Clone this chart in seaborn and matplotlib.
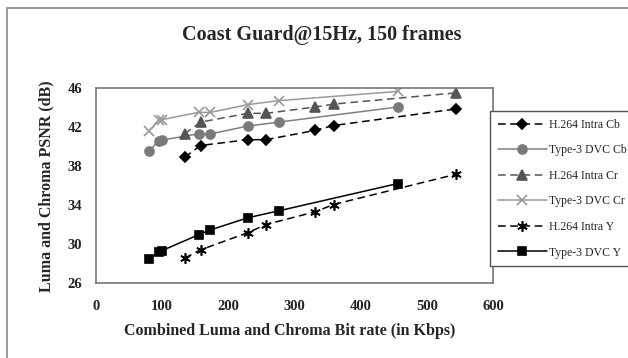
import matplotlib
matplotlib.use("Agg")
import matplotlib.pyplot as plt
import seaborn as sns
import pandas as pd
from matplotlib.patches import Rectangle

# Data
h264_x = [134, 158, 229, 257, 331, 359, 544]
dvc_x = [80, 95, 99, 155, 173, 230, 276, 456]

h264_cb = [38.9, 40.1, 40.7, 40.7, 41.65, 42.15, 43.85]
dvc_cb = [39.5, 40.6, 40.65, 41.3, 41.3, 42.1, 42.5, 44.05]
h264_cr = [41.3, 42.5, 43.4, 43.4, 44.05, 44.35, 45.5]
dvc_cr = [41.6, 42.7, 42.75, 43.5, 43.5, 44.3, 44.7, 45.65]
h264_y = [28.55, 29.4, 31.15, 32.0, 33.3, 34.05, 37.15]
dvc_y = [28.45, 29.15, 29.3, 30.95, 31.45, 32.7, 33.4, 36.2]

labels = ["H.264 Intra Cb", "Type-3 DVC Cb", "H.264 Intra Cr",
          "Type-3 DVC Cr", "H.264 Intra Y", "Type-3 DVC Y"]
title = "Coast Guard@15Hz, 150 frames"
xlabel = "Combined Luma and Chroma Bit rate (in Kbps)"
ylabel = "Luma and Chroma PSNR (dB)"
xticks = [0, 100, 200, 300, 400, 500, 600]
yticks = [26, 30, 34, 38, 42, 46]

series = [
    (labels[0], h264_x, h264_cb),
    (labels[1], dvc_x, dvc_cb),
    (labels[2], h264_x, h264_cr),
    (labels[3], dvc_x, dvc_cr),
    (labels[4], h264_x, h264_y),
    (labels[5], dvc_x, dvc_y),
]
rows = []
for name, xs, ys in series:
    for x, y in zip(xs, ys):
        rows.append({"series": name, "rate": x, "psnr": y})
df = pd.DataFrame(rows)

styles = {
    labels[0]: dict(color="black", ls=(0, (5, 3)), marker="D", ms=5.5, mfc="black", mec="black"),
    labels[1]: dict(color="#808080", ls="-", marker="o", ms=6.5, mfc="#7a7a7a", mec="#7a7a7a"),
    labels[2]: dict(color="#555555", ls=(0, (5, 3)), marker="^", ms=7, mfc="#555555", mec="#555555"),
    labels[3]: dict(color="#999999", ls="-", marker="x", ms=7.5, mfc="#999999", mec="#999999"),
    labels[4]: dict(color="black", ls=(0, (5, 3)), marker=(6, 2, 0), ms=7.5, mfc="black", mec="black"),
    labels[5]: dict(color="black", ls="-", marker="s", ms=6, mfc="black", mec="black"),
}

sns.set_style("white")
plt.rcParams["font.family"] = ["Liberation Serif", "DejaVu Serif"]

fig = plt.figure(figsize=(6.28, 3.58), dpi=100)
ax = fig.add_axes([96 / 628, 1 - 283 / 358, (493 - 96) / 628, (283 - 88) / 358])

for name in labels:
    st = styles[name]
    sub = df[df["series"] == name]
    sns.lineplot(data=sub, x="rate", y="psnr", ax=ax, color=st["color"],
                 linestyle=st["ls"], marker=st["marker"], markersize=st["ms"],
                 markerfacecolor=st["mfc"], markeredgecolor=st["mec"],
                 markeredgewidth=1.2, linewidth=1.1, label=name, sort=False,
                 estimator=None)

ax.set_xlim(0, 600)
ax.set_ylim(26, 46)
ax.set_xticks(xticks)
ax.set_yticks(yticks)
ax.set_xticklabels([str(t) for t in xticks], fontsize=10.5, fontweight="bold", color="#222222")
ax.set_yticklabels([str(t) for t in yticks], fontsize=10.5, fontweight="bold", color="#222222")
ax.tick_params(axis="y", direction="out", length=4, width=1, color="#555555", pad=6)
ax.tick_params(axis="x", direction="out", length=4, width=1, color="#555555", pad=8)
for sp in ax.spines.values():
    sp.set_color("#777777")
    sp.set_linewidth(1.2)
ax.set_xlabel("")
ax.set_ylabel("")

fig.text(322 / 628, 1 - 35 / 358, title, ha="center", va="center",
         fontsize=14.5, fontweight="bold")
fig.text(290 / 628, 1 - 331 / 358, xlabel, ha="center", va="center",
         fontsize=11.5, fontweight="bold")
fig.text(46 / 628, 1 - 186 / 358, ylabel, ha="center", va="center",
         rotation=90, fontsize=11.5, fontweight="bold")

leg = ax.legend(loc="upper left", bbox_to_anchor=(490 / 628, 1 - 111 / 358),
                bbox_transform=fig.transFigure, frameon=True, fancybox=False,
                edgecolor="#555555", framealpha=1, fontsize=8.5,
                handlelength=4.2, handletextpad=0.15, labelspacing=1.15,
                borderpad=0.65, borderaxespad=0)
leg.get_frame().set_linewidth(1.0)

fig.patches.append(Rectangle((7 / 628, -0.1), 1.2, 1 - 8 / 358 + 0.1,
                             transform=fig.transFigure, fill=False,
                             edgecolor="#888888", linewidth=1.2))

fig.savefig("out.png", dpi=100)
